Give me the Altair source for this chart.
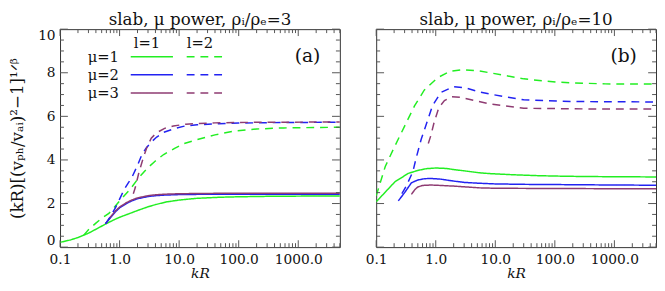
import altair as alt
import pandas as pd

# ---------------- data ----------------
mu_labels = ["μ=1", "μ=2", "μ=3"]
l_labels = ["l=1", "l=2"]
colors = ["#22ee22", "#2222f2", "#8e3b72"]
panel_titles = ["slab, μ power, ρᵢ/ρₑ=3", "slab, μ power, ρᵢ/ρₑ=10"]
panel_tags = ["(a)", "(b)"]
y_title = "(kR)[(vₚₕ/vₐᵢ)²−1]¹ᐟᵝ"
x_title = "kR"

# panel (a)  rho_i/rho_e = 3
a_mu1_l1_kr = [0.1, 0.15, 0.2, 0.3, 0.4, 0.6, 0.8, 1.0, 1.5, 2.0, 3.0, 4.0, 6.0, 10, 20, 50, 100, 300, 1000, 5000]
a_mu1_l1_y = [0.22, 0.33, 0.44, 0.64, 0.82, 1.08, 1.25, 1.37, 1.55, 1.68, 1.85, 1.95, 2.07, 2.16, 2.24, 2.29, 2.31, 2.33, 2.34, 2.35]
a_mu2_l1_kr = [0.58, 0.7, 0.85, 1.0, 1.3, 1.6, 2.0, 3.0, 4.0, 6.0, 10, 20, 50, 100, 1000, 5000]
a_mu2_l1_y = [1.07, 1.35, 1.62, 1.8, 2.0, 2.12, 2.22, 2.32, 2.36, 2.39, 2.41, 2.42, 2.43, 2.43, 2.43, 2.43]
a_mu3_l1_kr = [0.58, 0.7, 0.85, 1.0, 1.3, 1.6, 2.0, 3.0, 4.0, 6.0, 10, 20, 50, 100, 1000, 5000]
a_mu3_l1_y = [1.07, 1.38, 1.66, 1.84, 2.04, 2.16, 2.26, 2.36, 2.40, 2.43, 2.45, 2.46, 2.47, 2.47, 2.47, 2.47]
a_mu1_l2_kr = [0.25, 0.3, 0.4, 0.5, 0.66, 0.8, 1.0, 1.5, 2.08, 3.0, 3.9, 5.5, 8.4, 12, 20, 40, 87, 200, 570, 5000]
a_mu1_l2_y = [0.55, 0.8, 1.1, 1.32, 1.55, 1.8, 2.12, 2.65, 3.17, 3.65, 3.93, 4.25, 4.53, 4.75, 4.93, 5.15, 5.33, 5.42, 5.47, 5.5]
a_mu2_l2_kr = [0.58, 0.7, 0.85, 1.0, 1.2, 1.4, 1.61, 2.0, 2.36, 2.8, 3.43, 4.2, 5.7, 8, 12.2, 20, 46, 100, 300, 5000]
a_mu2_l2_y = [1.07, 1.4, 1.8, 2.2, 2.65, 2.95, 3.2, 3.75, 4.23, 4.55, 4.83, 5.05, 5.28, 5.42, 5.55, 5.61, 5.66, 5.69, 5.71, 5.73]
a_mu3_l2_kr = [1.7, 1.83, 2.1, 2.5, 2.9, 3.4, 4.2, 5.7, 8, 13, 20, 40, 87, 300, 5000]
a_mu3_l2_y = [2.45, 2.72, 3.4, 4.1, 4.6, 5.0, 5.25, 5.45, 5.56, 5.64, 5.67, 5.7, 5.72, 5.73, 5.74]

# panel (b)  rho_i/rho_e = 10
b_mu1_l1_kr = [0.1, 0.207, 0.344, 0.5, 0.7, 1.0, 1.5, 2.0, 3.0, 5.4, 8.5, 20, 50, 104, 300, 1000, 5000]
b_mu1_l1_y = [2.08, 3.0, 3.38, 3.52, 3.6, 3.63, 3.61, 3.56, 3.5, 3.41, 3.37, 3.32, 3.28, 3.26, 3.24, 3.23, 3.22]
b_mu2_l1_kr = [0.235, 0.3, 0.39, 0.5, 0.65, 0.83, 1.2, 2.0, 3.0, 5.4, 10, 30, 104, 1000, 5000]
b_mu2_l1_y = [2.12, 2.5, 2.95, 3.08, 3.14, 3.15, 3.12, 3.03, 2.97, 2.93, 2.9, 2.88, 2.87, 2.85, 2.84]
b_mu3_l1_kr = [0.39, 0.45, 0.5, 0.6, 0.83, 1.2, 2.0, 5.4, 10, 100, 1000, 5000]
b_mu3_l1_y = [2.42, 2.65, 2.76, 2.83, 2.85, 2.83, 2.8, 2.72, 2.7, 2.69, 2.68, 2.68]
b_mu1_l2_kr = [0.1, 0.142, 0.207, 0.3, 0.44, 0.64, 1.07, 1.76, 2.9, 5.4, 8.5, 30, 104, 300, 700, 5000]
b_mu1_l2_y = [2.35, 3.7, 4.65, 5.55, 6.48, 7.2, 7.77, 8.07, 8.14, 8.08, 7.99, 7.72, 7.57, 7.52, 7.49, 7.48]
b_mu2_l2_kr = [0.27, 0.32, 0.415, 0.47, 0.57, 0.64, 0.88, 1.21, 1.99, 3.1, 5.4, 8.5, 30, 197, 5000]
b_mu2_l2_y = [2.45, 2.8, 3.48, 4.1, 4.95, 5.35, 6.48, 7.09, 7.36, 7.31, 7.12, 7.01, 6.76, 6.68, 6.66]
b_mu3_l2_kr = [0.75, 0.83, 0.94, 1.13, 1.4, 1.87, 2.56, 4.8, 8.5, 30, 370, 5000]
b_mu3_l2_y = [4.75, 5.13, 5.73, 6.41, 6.72, 6.9, 6.88, 6.71, 6.56, 6.37, 6.34, 6.34]

x_major = [0.1, 1, 10, 100, 1000]
y_major = [0, 2, 4, 6, 8, 10]

series = [
    ("a", 0, 0, a_mu1_l1_kr, a_mu1_l1_y), ("a", 1, 0, a_mu2_l1_kr, a_mu2_l1_y),
    ("a", 2, 0, a_mu3_l1_kr, a_mu3_l1_y), ("a", 0, 1, a_mu1_l2_kr, a_mu1_l2_y),
    ("a", 1, 1, a_mu2_l2_kr, a_mu2_l2_y), ("a", 2, 1, a_mu3_l2_kr, a_mu3_l2_y),
    ("b", 0, 0, b_mu1_l1_kr, b_mu1_l1_y), ("b", 1, 0, b_mu2_l1_kr, b_mu2_l1_y),
    ("b", 2, 0, b_mu3_l1_kr, b_mu3_l1_y), ("b", 0, 1, b_mu1_l2_kr, b_mu1_l2_y),
    ("b", 1, 1, b_mu2_l2_kr, b_mu2_l2_y), ("b", 2, 1, b_mu3_l2_kr, b_mu3_l2_y),
]
rows = []
for panel, mi, li, ks, vs in series:
    for k, v in zip(ks, vs):
        rows.append({"panel": panel, "mu": mu_labels[mi], "l": l_labels[li],
                     "series": f"{panel}{mi}{li}", "kR": k, "val": v})
df = pd.DataFrame(rows)

# ---------------- layout / style ----------------
W, H = 285, 222
FONT = "DejaVu Serif"
TICK = "#555555"
x_dom = [0.1, 5000]
y_dom = [0, 10]
x_minor = [m * 10.0 ** e for e in range(-1, 4) for m in range(2, 10) if m * 10.0 ** e <= 5000]
y_minor = [0.5 * i for i in range(21) if i % 4 != 0]

x_scale = alt.Scale(type="log", domain=x_dom, nice=False)
y_scale = alt.Scale(domain=y_dom, nice=False, zero=False)
color_scale = alt.Scale(domain=mu_labels, range=colors)
dash_scale = alt.Scale(domain=l_labels, range=[[1, 0], [8, 6]])


def one():
    return pd.DataFrame({"k": [0]})


def make_axes(first):
    x_axis = alt.Axis(orient="bottom", values=x_major, format=".1f", ticks=False, tickSize=0,
                      domain=False, grid=False, labelFlush=False, labelFont=FONT,
                      labelFontSize=14, labelColor="#111", labelPadding=6, title=x_title,
                      titleFont=FONT, titleFontSize=14, titleFontStyle="italic",
                      titleFontWeight="normal", titlePadding=0, titleColor="#111")
    if first:
        y_axis = alt.Axis(orient="left", values=y_major, format="d", ticks=False, tickSize=0,
                          domain=False, grid=False, labelFlush=True, labelFont=FONT,
                          labelFontSize=14, labelColor="#111", labelPadding=5,
                          title=y_title, titleFont=FONT, titleFontSize=17,
                          titleFontWeight="normal", titlePadding=11, titleColor="#111")
    else:
        y_axis = None
    return x_axis, y_axis


def tick_layers(x_axis, y_axis):
    out = []
    for vals, size in [(x_major, 7), (x_minor, 4)]:
        tdf = pd.DataFrame({"kR": vals})
        for y0, y1 in [(H, H - size), (0, size)]:
            out.append(alt.Chart(tdf).mark_rule(color=TICK, strokeWidth=1).encode(
                x=alt.X("kR:Q", scale=x_scale, axis=x_axis),
                y=alt.value(y0), y2=alt.value(y1)))
    for vals, size in [(y_major, 8), (y_minor, 4)]:
        tdf = pd.DataFrame({"val": vals})
        for x0, x1 in [(0, size), (W - size, W)]:
            out.append(alt.Chart(tdf).mark_rule(color=TICK, strokeWidth=1).encode(
                y=alt.Y("val:Q", scale=y_scale, axis=y_axis),
                x=alt.value(x0), x2=alt.value(x1)))
    return out


def panel(key, idx, first):
    pdf = df[df.panel == key]
    x_axis, y_axis = make_axes(first)

    lines = alt.Chart(pdf).mark_line(strokeWidth=1.5, clip=True).encode(
        x=alt.X("kR:Q", scale=x_scale, axis=x_axis),
        y=alt.Y("val:Q", scale=y_scale, axis=y_axis),
        color=alt.Color("mu:N", scale=color_scale, legend=None),
        strokeDash=alt.StrokeDash("l:N", scale=dash_scale, legend=None),
        detail="series:N",
    )

    layers = [lines] + tick_layers(x_axis, y_axis)

    layers.append(alt.Chart(one()).mark_text(font=FONT, fontSize=19, align="center",
                                             baseline="middle", color="#111").encode(
        x=alt.value(252), y=alt.value(27), text=alt.value(panel_tags[idx])))

    if first:
        col_x = [(72, 115), (129, 166)]
        for j, lab in enumerate(l_labels):
            layers.append(alt.Chart(one()).mark_text(font=FONT, fontSize=15, align="center",
                                                     baseline="middle", color="#111").encode(
                x=alt.value((col_x[j][0] + col_x[j][1]) / 2 - 5), y=alt.value(14),
                text=alt.value(lab)))
        for i, mu in enumerate(mu_labels):
            yy = 28 + 18.5 * i
            layers.append(alt.Chart(one()).mark_text(font=FONT, fontSize=15, align="right",
                                                     baseline="middle", color="#111").encode(
                x=alt.value(60), y=alt.value(yy), text=alt.value(mu)))
            for j in range(len(l_labels)):
                layers.append(alt.Chart(one()).mark_rule(
                    strokeWidth=1.5, color=colors[i],
                    strokeDash=[1, 0] if j == 0 else [8, 6]).encode(
                    x=alt.value(col_x[j][0]), x2=alt.value(col_x[j][1]), y=alt.value(yy)))

    return alt.layer(*layers).properties(
        width=W, height=H,
        title=alt.TitleParams(panel_titles[idx], font=FONT, fontSize=17, fontWeight="normal",
                              color="#111", offset=0),
    )


chart = alt.hconcat(panel("a", 0, True), panel("b", 1, False), spacing=24).properties(
    padding=0
).configure_view(stroke="#333333", strokeWidth=1)

chart.save("out.html", embed_options={"renderer": "svg", "actions": False})
